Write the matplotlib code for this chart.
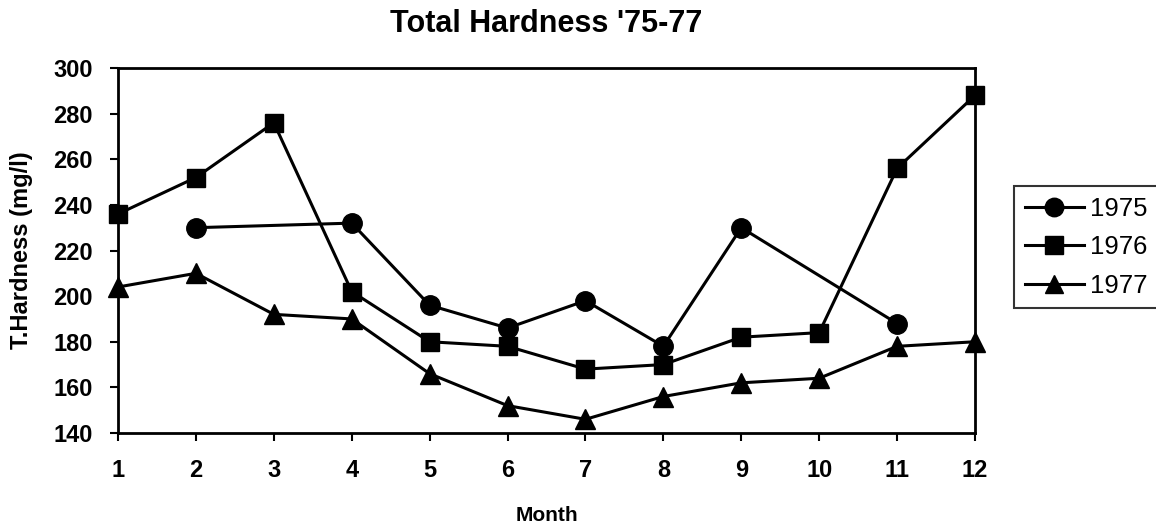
import numpy as np
import matplotlib.pyplot as plt

plt.rcParams['font.family'] = ['Liberation Sans', 'DejaVu Sans']

months = np.arange(1, 13)
# 1975 has no value for months 1, 10 and 12 (line joins 9 to 11)
m1975 = [2, 4, 5, 6, 7, 8, 9, 11]
h1975 = [230, 232, 196, 186, 198, 178, 230, 188]
h1976 = [236, 252, 276, 202, 180, 178, 168, 170, 182, 184, 256, 288]
h1977 = [204, 210, 192, 190, 166, 152, 146, 156, 162, 164, 178, 180]

fig = plt.figure(figsize=(11.56, 5.29), dpi=100)
ax = fig.add_axes([118/1156, 1 - 433/529, (975-118)/1156, (433-68)/529])

kw = dict(color='black', lw=2.2, clip_on=False)
ax.plot(m1975, h1975, marker='o', markersize=14, label='1975', **kw)
ax.plot(months, h1976, marker='s', markersize=13, label='1976', **kw)
ax.plot(months, h1977, marker='^', markersize=14, label='1977', **kw)

ax.set_xlim(1, 12)
ax.set_ylim(140, 300)
ax.set_xticks(months)
ax.set_yticks(np.arange(140, 301, 20))
ax.tick_params(labelsize=17, width=1.5, length=6, direction='out')
ax.tick_params(axis='x', pad=13)
ax.tick_params(axis='y', pad=12)
for lbl in ax.get_xticklabels() + ax.get_yticklabels():
    lbl.set_fontweight('bold')
for s in ax.spines.values():
    s.set_linewidth(2)

ax.set_title("Total Hardness '75-77", fontsize=22, fontweight='bold', pad=26)
ax.set_xlabel('Month', fontsize=15, fontweight='bold', labelpad=17)
ax.set_ylabel('T.Hardness (mg/l)', fontsize=17, fontweight='bold', labelpad=15)

leg = ax.legend(loc='upper left', bbox_to_anchor=(1014/1156, 1 - 186/529),
                bbox_transform=fig.transFigure, borderaxespad=0, fontsize=18.5,
                frameon=True, fancybox=False, edgecolor='black',
                handlelength=2.3, handletextpad=0.25, borderpad=0.42,
                labelspacing=0.56, markerscale=0.95)
leg.get_frame().set_linewidth(1.5)

fig.savefig('out.png', dpi=100)
